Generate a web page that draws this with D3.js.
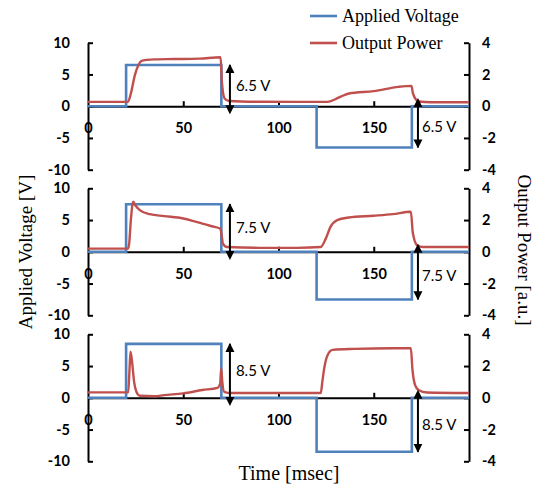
<!DOCTYPE html>
<html>
<head>
<meta charset="utf-8">
<script src="https://cdn.jsdelivr.net/npm/d3@7"></script>
<style>
  body { margin: 0; background: #fff; }
  svg { display: block; }
</style>
</head>
<body>
<svg id="chart" width="538" height="484"></svg>
<script>
// ---------------- data ----------------
const seriesNames = ["Applied Voltage", "Output Power"];
const amplitudes = [6.5, 7.5, 8.5];
const ampLabels = ["6.5 V", "7.5 V", "8.5 V"];

const voltTime = [0, 20, 20, 70, 70, 120, 120, 170, 170, 200];
const volt1 = [0, 0, 6.5, 6.5, 0, 0, -6.5, -6.5, 0, 0];
const volt2 = [0, 0, 7.5, 7.5, 0, 0, -7.5, -7.5, 0, 0];
const volt3 = [0, 0, 8.5, 8.5, 0, 0, -8.5, -8.5, 0, 0];

const powTime1 = [0, 21, 22.5, 24.6, 26.5, 28.1, 31, 35, 45, 58.6, 69.6, 70.3, 71.7, 74, 90, 110, 125.8, 130, 133, 137, 150, 163, 169.8, 170.6, 173.5, 180, 200];
const power1   = [0.27, 0.27, 0.8, 1.96, 2.6, 2.85, 2.92, 2.95, 2.97, 3.0, 3.08, 1.5, 0.49, 0.33, 0.28, 0.27, 0.27, 0.45, 0.62, 0.8, 0.95, 1.22, 1.28, 0.8, 0.3, 0.25, 0.25];

const powTime2 = [0, 21, 21.6, 22.5, 23.7, 25, 27.2, 32.4, 40, 50, 55, 60, 65, 69.5, 70.2, 70.8, 73, 90, 110, 122.2, 124.8, 127.3, 130.8, 136.9, 150, 160, 169.5, 170.5, 172.8, 176, 200];
const power2   = [0.2, 0.2, 0.5, 2.0, 3.15, 2.9, 2.63, 2.37, 2.25, 2.1, 1.95, 1.78, 1.61, 1.45, 1.0, 0.52, 0.3, 0.25, 0.25, 0.3, 0.83, 1.57, 2.0, 2.16, 2.27, 2.37, 2.52, 1.2, 0.41, 0.3, 0.3];

const powTime3 = [0, 21.1, 21.8, 22.3, 23.2, 24.2, 25.4, 27.2, 35, 40, 50, 60, 68, 69.4, 69.9, 70.5, 71.5, 75, 100, 122.2, 123, 124, 125.8, 128.4, 140, 160, 169.5, 170.3, 171.7, 173.5, 178, 200];
const power3   = [0.34, 0.34, 1.8, 2.9, 2.2, 1.0, 0.38, 0.13, 0.1, 0.17, 0.28, 0.49, 0.63, 0.9, 1.86, 1.0, 0.38, 0.3, 0.3, 0.3, 1.0, 1.86, 2.7, 3.02, 3.08, 3.12, 3.12, 1.8, 0.8, 0.49, 0.33, 0.3];

const xTicks = [0, 50, 100, 150];
const yLeftTicks = [-10, -5, 0, 5, 10];
const yRightTicks = [-4, -2, 0, 2, 4];
const arrowTimes = [74.5, 173.2];

const voltSeries = [volt1, volt2, volt3];
const powTimes = [powTime1, powTime2, powTime3];
const powSeries = [power1, power2, power3];

// ---------------- layout ----------------
const blue = "#4F81BD", red = "#C0504D";
const svg = d3.select("#chart");
const x = d3.scaleLinear().domain([0, 200]).range([88, 469]);
const panelTops = [42.7, 188.3, 334.3];
const panelH = 127;
const tickFont = "Lato, 'Open Sans', sans-serif";
const serif = "'Liberation Serif', 'Times New Roman', serif";
const fmt = d => String(d); // plain hyphen-minus like the original

const defs = svg.append("defs");
["start", "end"].forEach(k => {
  defs.append("marker")
    .attr("id", "arrow-" + k)
    .attr("viewBox", "0 0 10 10")
    .attr("refX", k === "end" ? 9 : 1).attr("refY", 5)
    .attr("markerWidth", 4.5).attr("markerHeight", 4.8)
    .attr("markerUnits", "strokeWidth")
    .attr("orient", k === "end" ? "auto" : "auto-start-reverse")
    .append("path").attr("d", "M0,0 L10,5 L0,10 Z").attr("fill", "#000");
});

panelTops.forEach((top, i) => {
  const yL = d3.scaleLinear().domain([-10, 10]).range([top + panelH, top]);
  const yR = d3.scaleLinear().domain([-4, 4]).range([top + panelH, top]);
  const g = svg.append("g");

  const xa = g.append("g").attr("transform", `translate(0,${yL(0)})`)
    .call(d3.axisBottom(x).tickValues(xTicks).tickSize(-5).tickSizeOuter(0).tickFormat(fmt));
  const la = g.append("g").attr("transform", `translate(${x(0)},0)`)
    .call(d3.axisLeft(yL).tickValues(yLeftTicks).tickSize(-5).tickSizeOuter(0).tickPadding(18).tickFormat(fmt));
  const ra = g.append("g").attr("transform", `translate(${x(200)},0)`)
    .call(d3.axisRight(yR).tickValues(yRightTicks).tickSize(-5).tickSizeOuter(0).tickPadding(13).tickFormat(fmt));

  [xa, la, ra].forEach(a => {
    a.selectAll("path.domain").attr("stroke", "#000").attr("stroke-width", 2);
    a.selectAll(".tick line").attr("stroke", "#000").attr("stroke-width", 2);
    a.selectAll("text").attr("font-family", tickFont).attr("font-size", 14.5)
      .attr("font-weight", "bold").attr("fill", "#000");
  });
  xa.selectAll(".tick").filter(d => d === 0).select("line").remove();
  xa.selectAll("text").attr("dy", "0.35em").attr("y", 22);
  la.raise();

  const vLine = d3.line().x((d, j) => x(voltTime[j])).y(d => yL(d));
  g.append("path").datum(voltSeries[i]).attr("d", vLine)
    .attr("fill", "none").attr("stroke", blue).attr("stroke-width", 2.6)
    .attr("stroke-linejoin", "miter");

  const pt = powTimes[i];
  const pLine = d3.line().x((d, j) => x(pt[j])).y(d => yR(d)).curve(d3.curveMonotoneX);
  g.append("path").datum(powSeries[i]).attr("d", pLine)
    .attr("fill", "none").attr("stroke", red).attr("stroke-width", 2.4)
    .attr("stroke-linejoin", "round");

  const V = amplitudes[i];
  [[arrowTimes[0], V], [arrowTimes[1], -V]].forEach(([t, v], k) => {
    g.append("line")
      .attr("x1", x(t)).attr("x2", x(t))
      .attr("y1", yL(0)).attr("y2", yL(v))
      .attr("stroke", "#000").attr("stroke-width", 2)
      .attr("marker-start", "url(#arrow-start)")
      .attr("marker-end", "url(#arrow-end)");
    g.append("text")
      .attr("x", x(t) + (k === 0 ? 6 : 4))
      .attr("y", yL(v / 2))
      .attr("dy", "0.35em")
      .attr("font-family", tickFont).attr("font-size", 15)
      .attr("fill", "#000")
      .text(ampLabels[i]);
  });
});

// legend
const legend = svg.append("g");
[[blue, 16], [red, 43]].forEach(([c, yy], k) => {
  legend.append("line").attr("x1", 310).attr("x2", 337).attr("y1", yy).attr("y2", yy)
    .attr("stroke", c).attr("stroke-width", 2.6);
  legend.append("text").attr("x", 342).attr("y", yy).attr("dy", "0.35em")
    .attr("font-family", serif).attr("font-size", 18).attr("fill", "#000")
    .text(seriesNames[k]);
});

// axis titles
svg.append("text")
  .attr("transform", "translate(32,252) rotate(-90)")
  .attr("text-anchor", "middle")
  .attr("font-family", serif).attr("font-size", 19).attr("fill", "#000")
  .text("Applied Voltage [V]");
svg.append("text")
  .attr("transform", "translate(518,250) rotate(90)")
  .attr("text-anchor", "middle")
  .attr("font-family", serif).attr("font-size", 19).attr("fill", "#000")
  .text("Output Power [a.u.]");
svg.append("text")
  .attr("x", 289).attr("y", 480)
  .attr("text-anchor", "middle")
  .attr("font-family", serif).attr("font-size", 20).attr("fill", "#000")
  .text("Time [msec]");
</script>
</body>
</html>
